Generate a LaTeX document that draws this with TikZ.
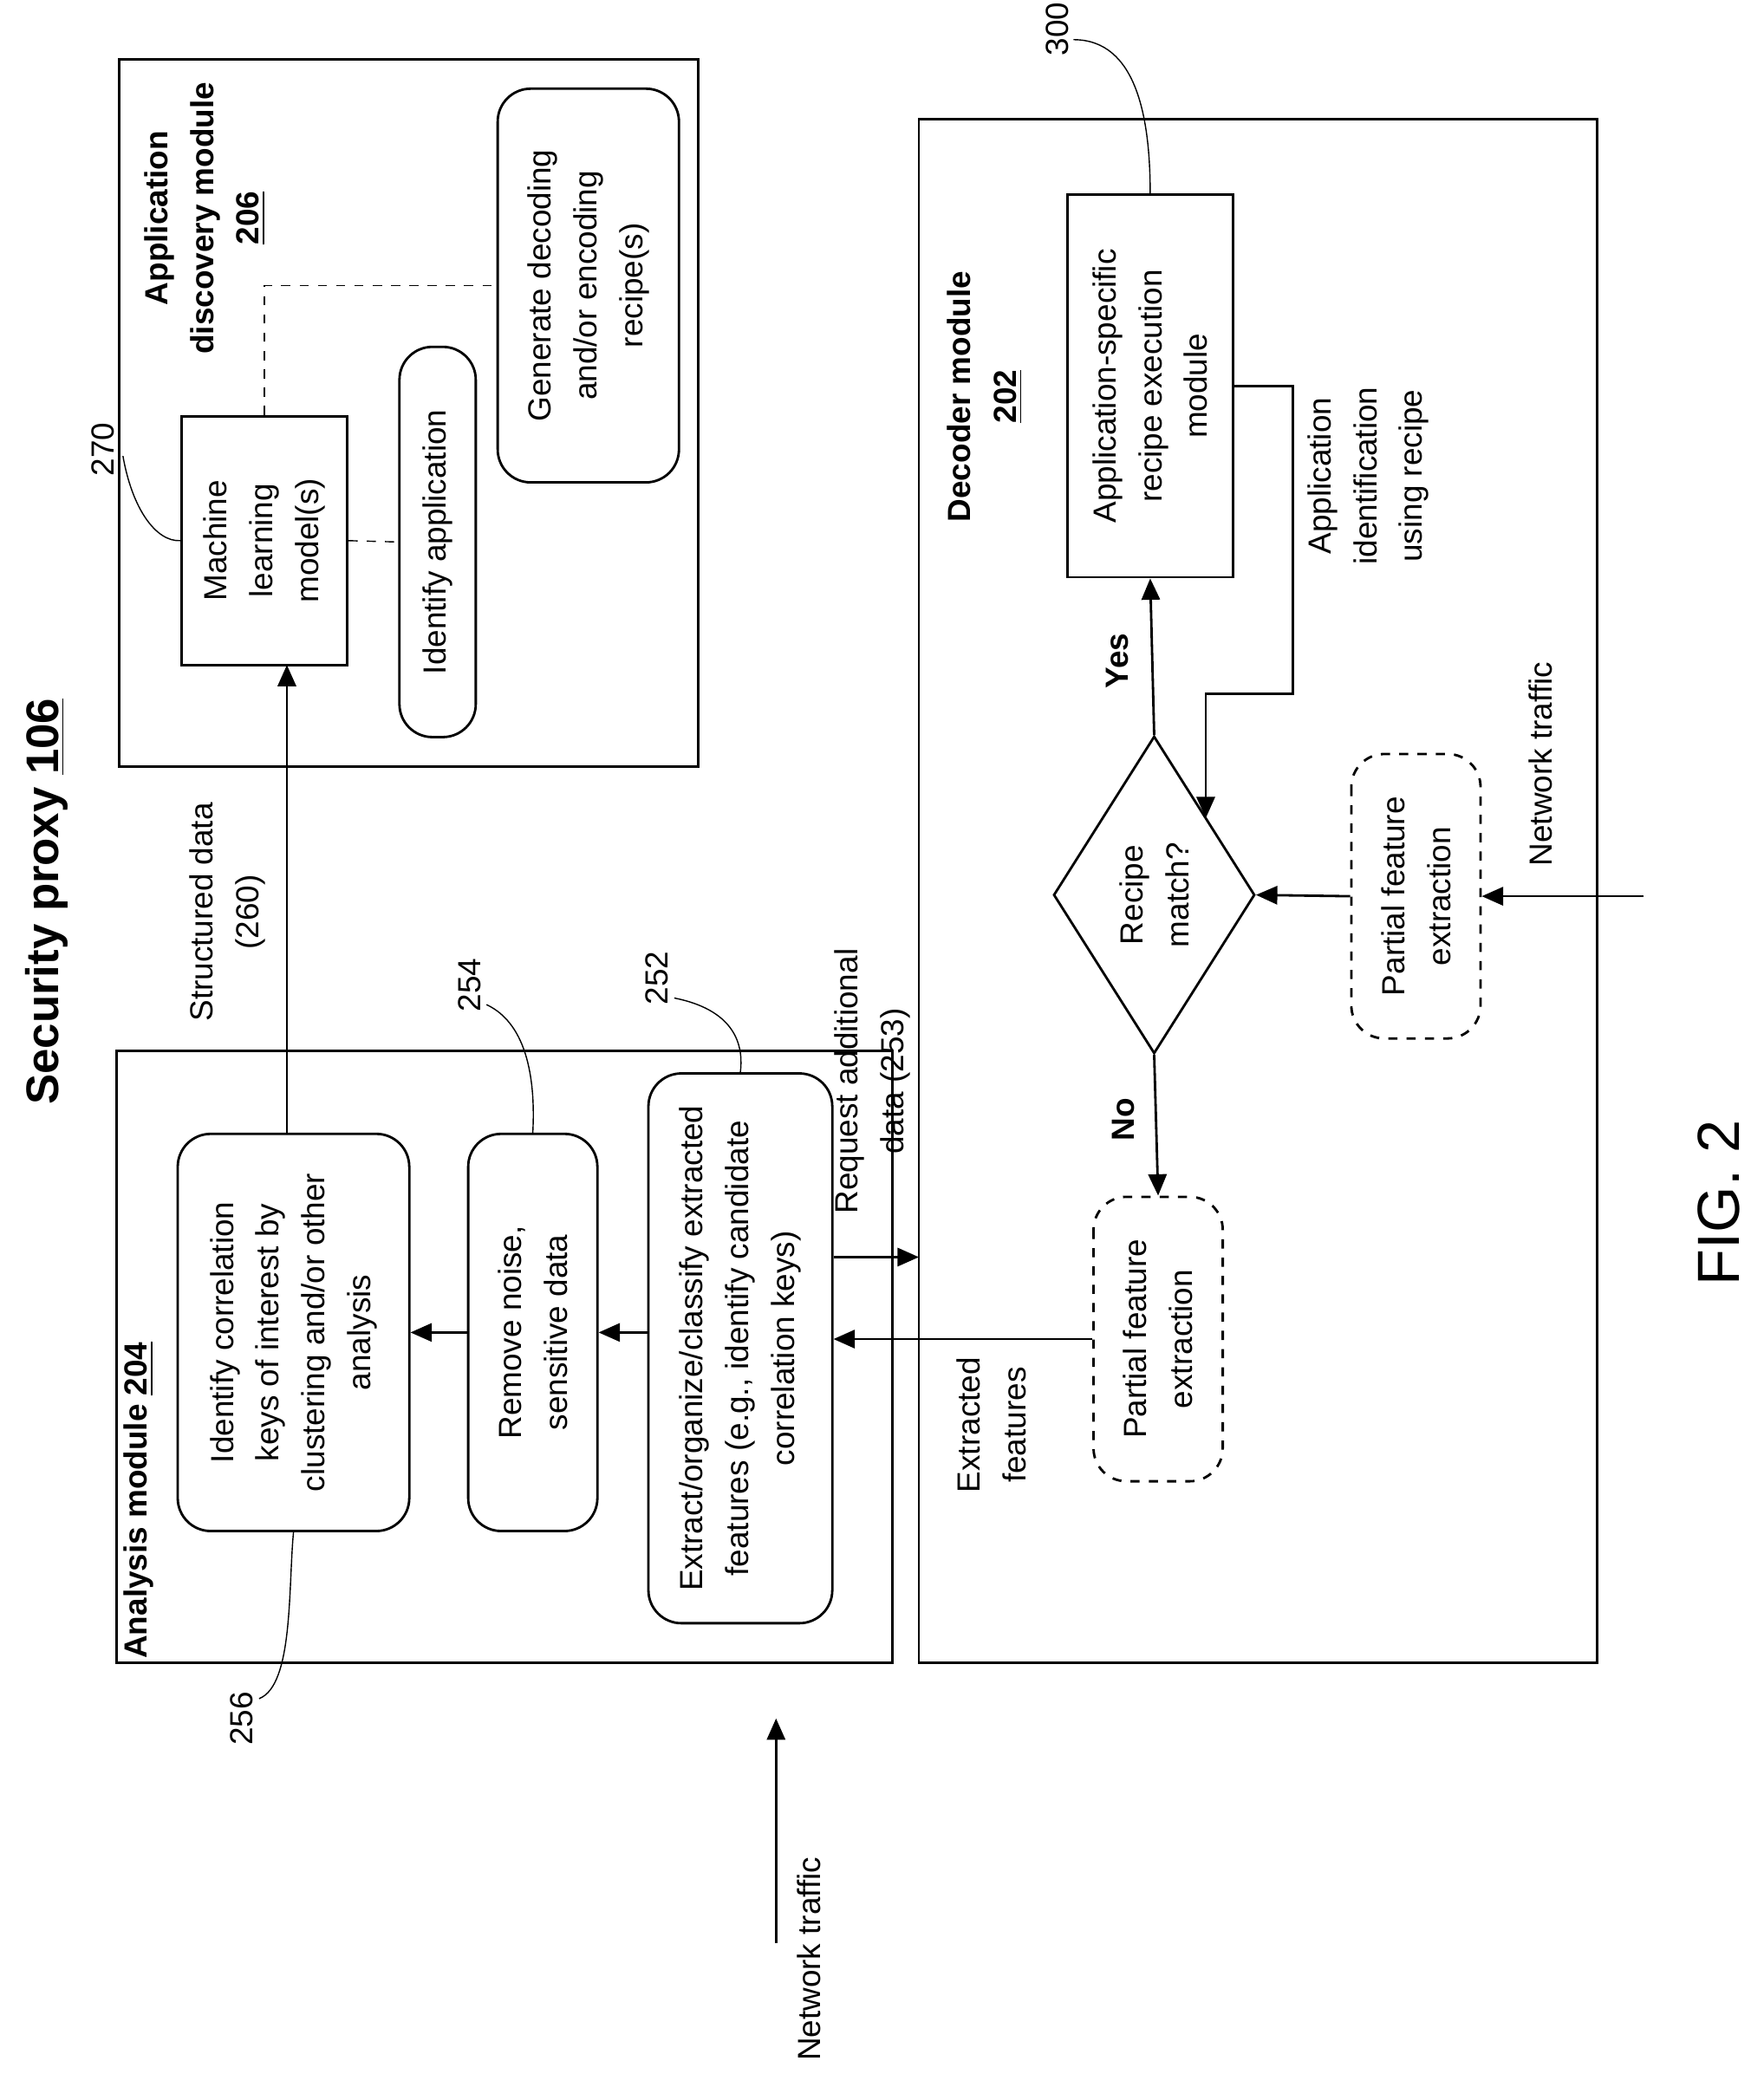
\documentclass[tikz,border=0pt]{standalone}
\usepackage{fontspec}
\setmainfont{Liberation Sans}
\usetikzlibrary{shapes.geometric,arrows.meta,calc,positioning}
\tikzset{
  txt/.style={rotate=90, align=center, font=\fontsize{10.5}{15}\selectfont},
  box/.style={txt, draw, thick, inner sep=2pt},
  rbox/.style={box, rounded corners=0.38cm},
  dbox/.style={rbox, dashed},
  ttl/.style={txt, font=\fontsize{10.5}{15}\selectfont\bfseries},
  arr/.style={thick, -{Triangle[length=7pt,width=6pt]}},
  lead/.style={thin},
  frame/.style={thick}
}
\begin{document}
\begin{tikzpicture}[x=0.01525cm, y=-0.01525cm]
\useasboundingbox (0,0) rectangle (1334,1569);

% title
\node[txt, font=\fontsize{15}{18}\selectfont\bfseries] (title) at (35,682) {Security proxy \underline{106}};

% application discovery module
\draw[frame] (90,45) rectangle (528,580);
\node[ttl] (adtitle) at (155,165) {Application\\discovery module\\\underline{206}};
\node[box, minimum width=2.87cm, minimum height=1.91cm] (ml) at (200,409) {Machine\\learning\\model(s)};
\node[rbox, minimum width=4.5cm, minimum height=0.88cm] (idapp) at (331,410) {Identify application};
\node[rbox, minimum width=4.54cm, minimum height=2.09cm] (gen) at (445,216) {Generate decoding\\and/or encoding\\recipe(s)};
\draw[dashed] (ml.south) -- (idapp.north);
\draw[dashed] (ml.east) |- (gen.north);
\node[txt] (n270) at (78,340) {270};
\draw[lead] (93,345) .. controls (100,385) and (118,410) .. (ml.north);

% analysis module
\draw[frame] (88,795) rectangle (675,1258);
\node[ttl] (antitle) at (105,1135) {Analysis module \underline{204}};
\node[rbox, minimum width=4.58cm, minimum height=2.67cm] (corr) at (222,1008) {Identify correlation\\keys of interest by\\clustering and/or other\\analysis};
\node[rbox, minimum width=4.58cm, minimum height=1.49cm] (noise) at (403,1008) {Remove noise,\\sensitive data};
\node[rbox, minimum width=6.34cm, minimum height=2.12cm] (extract) at (560,1020) {Extract/organize/classify extracted\\features (e.g., identify candidate\\correlation keys)};
\draw[arr] (noise.north) -- (corr.south);
\draw[arr] (noise.south -| extract.north) -- (noise.south);
\draw[arr] (corr.east -| 217,0) -- (217,503);
\node[txt] (sdata) at (172,690) {Structured data\\(260)};
\node[txt] (n254) at (355,745) {254};
\draw[lead] (368,760) .. controls (400,775) and (405,820) .. (noise.east);
\node[txt] (n252) at (497,740) {252};
\draw[lead] (510,755) .. controls (560,765) and (562,795) .. (extract.east);
\node[txt] (n256) at (183,1300) {256};
\draw[lead] (196,1285) .. controls (222,1275) and (218,1200) .. (corr.west);

% request additional data
\coordinate (decin) at (695,951);
\draw[arr] (decin -| extract.south) -- (decin);
\node[txt] (req) at (660,818) {Request additional\\data (253)};

% decoder module
\draw[frame] (695,90) rectangle (1208,1258);
\node[ttl] (dectitle) at (745,300) {Decoder module\\\underline{202}};
\node[box, minimum width=4.41cm, minimum height=1.91cm] (exec) at (870,292) {Application-specific\\recipe execution\\module};
\node[txt, draw, thick, diamond, inner sep=0pt, minimum width=3.66cm, minimum height=2.32cm] (match) at (873,677) {Recipe\\match?};
\node[dbox, minimum width=3.28cm, minimum height=1.49cm] (pfe1) at (1071,678) {Partial feature\\extraction};
\node[dbox, minimum width=3.28cm, minimum height=1.49cm] (pfe2) at (876,1013) {Partial feature\\extraction};
\coordinate (netin) at (1243,678);
\draw[arr] (netin) -- (pfe1.south);
\node[txt] (net1) at (1165,578) {Network traffic};
\draw[arr] (pfe1.north) -- (match.south);
\draw[arr] (match.east) -- (exec.west);
\node[ttl] (yes) at (845,500) {Yes};
\draw[arr] (match.west) -- (pfe2.east);
\node[ttl] (no) at (850,847) {No};
\draw[arr] (pfe2.north) -- (pfe2.north -| extract.south);
\node[txt] (exf) at (750,1078) {Extracted\\features};
\coordinate (back) at (912,619);
\draw[arr] (exec.south) -| (978,525) -| (back);
\node[txt] (appid) at (1035,360) {Application\\identification\\using recipe};
\node[txt] (n300) at (800,22) {300};
\draw[lead] (812,30) .. controls (860,30) and (870,90) .. (exec.east);

% network traffic in
\coordinate (nt1) at (587,1470);
\coordinate (nt2) at (587,1300);
\draw[arr] (nt1) -- (nt2);
\node[txt] (net2) at (612,1482) {Network traffic};

\node[txt, font=\fontsize{19.5}{22}\selectfont] (fig) at (1300,910) {FIG. 2};
\end{tikzpicture}
\end{document}
